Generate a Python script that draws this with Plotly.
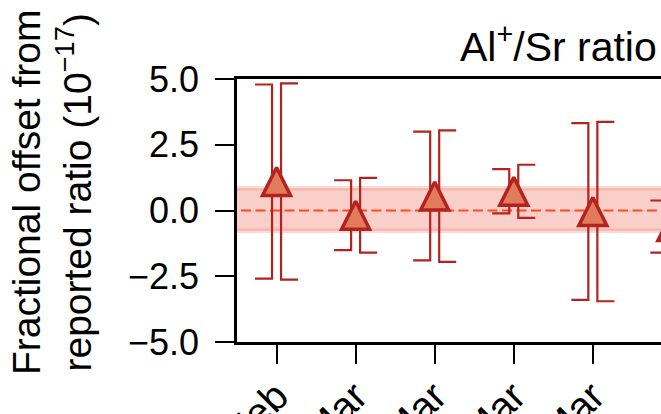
import plotly.graph_objects as go

# ---- data ----
dates = ["12 Feb", "3 Mar", "8 Mar", "10 Mar", "16 Mar", "22 Mar"]
offset = [1.10, -0.18, 0.55, 0.73, -0.04, -0.61]
err_inner = [3.69, 1.33, 2.45, 0.84, 3.36, 0.99]   # left bracket
err_total = [3.73, 1.42, 2.50, 1.01, 3.41, 1.08]   # right bracket
band_low, band_high = -0.77, 0.85
y_ticks = [-5.0, -2.5, 0.0, 2.5, 5.0]

DARK = "#b2231f"
FILL = "#e17b5c"
BAND = "rgba(238,95,75,0.30)"
BAND_EDGE = "rgba(238,95,75,0.24)"
DASH = "#ff4a25"

xs = list(range(len(dates)))
bar_off = 0.057
cap = 0.215

fig = go.Figure()

# uncertainty band
fig.add_trace(go.Scatter(x=[-1, 7, 7, -1, -1],
                         y=[band_high, band_high, band_low, band_low, band_high],
                         fill="toself", fillcolor=BAND, mode="lines",
                         line=dict(color=BAND_EDGE, width=4.5),
                         hoverinfo="skip", showlegend=False))
# reference line
fig.add_trace(go.Scatter(x=[-1, 7], y=[0, 0], mode="lines",
                         line=dict(color=DASH, width=2.2, dash="10px,4.5px"),
                         showlegend=False))

# bracket error bars
lx, ly, rx, ry = [], [], [], []
for x, y, ea, eb in zip(xs, offset, err_inner, err_total):
    xl = x - bar_off
    lx += [xl - cap, xl, xl, xl - cap, None]
    ly += [y + ea, y + ea, y - ea, y - ea, None]
    xr = x + bar_off
    rx += [xr + cap, xr, xr, xr + cap, None]
    ry += [y + eb, y + eb, y - eb, y - eb, None]
fig.add_trace(go.Scatter(x=lx, y=ly, mode="lines",
                         line=dict(color=DARK, width=2.2), showlegend=False))
fig.add_trace(go.Scatter(x=rx, y=ry, mode="lines",
                         line=dict(color=DARK, width=2.2), showlegend=False))

# markers (arrow-up has apex at the point; lift by half its height)
msize = 28
px_per_unit = 263 / 10.0
lift = (msize / 2) / px_per_unit
fig.add_trace(go.Scatter(x=xs, y=[v + lift for v in offset], mode="markers",
                         marker=dict(symbol="arrow-up", size=msize, color=FILL,
                                     line=dict(color=DARK, width=3.5)),
                         showlegend=False))

font = "Liberation Sans, Arial, sans-serif"
fig.update_layout(
    width=661, height=414,
    margin=dict(l=237, r=0, t=79, b=72),
    paper_bgcolor="white", plot_bgcolor="white",
    font=dict(family=font, color="black", size=36),
    showlegend=False,
    xaxis=dict(range=[-0.5, 4.862], tickvals=xs, ticktext=dates,
               tickangle=-45, ticks="outside", ticklen=19, tickwidth=2,
               tickcolor="black", showline=True, linecolor="black",
               linewidth=2.5, mirror=True, showgrid=False, zeroline=False,
               tickfont=dict(size=40), automargin=False,
               ticklabelstandoff=-7),
    yaxis=dict(range=[-5, 5], tickvals=y_ticks, tickformat=".1f",
               ticks="outside", ticklen=19, tickwidth=2, tickcolor="black",
               showline=True, linecolor="black", linewidth=2.5, mirror=False,
               showgrid=False, zeroline=False, tickfont=dict(size=36),
               ticklabelstandoff=9, automargin=False),
    annotations=[
        dict(text="Al<sup>+</sup>/Sr ratio", xref="paper", yref="paper",
             x=0.995, y=1 + (79 - 44) / 263, xanchor="right", yanchor="middle",
             showarrow=False, font=dict(size=41)),
        dict(text="Fractional offset from<br>reported ratio (10<sup>\u221217</sup>)",
             xref="paper", yref="paper", x=(52 - 237) / 424, y=0.57,
             xanchor="center", yanchor="middle", textangle=-90,
             showarrow=False, font=dict(size=39)),
    ],
)

fig.write_html("out.html")
